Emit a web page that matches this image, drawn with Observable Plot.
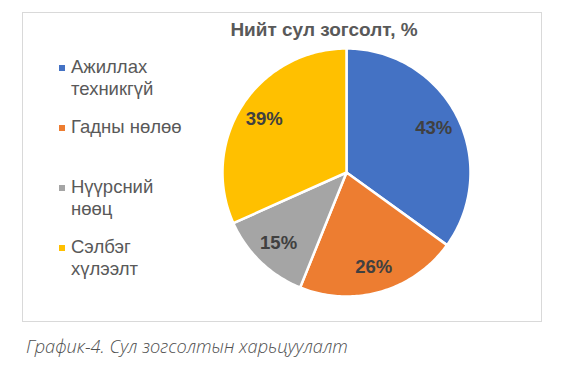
<!DOCTYPE html>
<html><head><meta charset="utf-8">
<script src="https://cdn.jsdelivr.net/npm/d3@7"></script>
<script src="https://cdn.jsdelivr.net/npm/@observablehq/plot@0.6"></script>
<style>
body{margin:0;background:#fff;}
#page{position:relative;width:564px;height:381px;overflow:hidden;font-family:"Liberation Sans",Arial,sans-serif;}
#box{position:absolute;left:22px;top:12px;width:518px;height:308px;border:1px solid #d9d9d9;}
#title{position:absolute;left:0;width:648px;top:19px;text-align:center;font-weight:bold;font-size:19px;line-height:22px;color:#595959;white-space:nowrap;}
#legend{position:absolute;left:57px;top:56px;}
.item{position:relative;height:60px;padding-left:14px;width:122px;font-size:18.5px;line-height:22px;color:#595959;}
.sw{position:absolute;left:2px;top:9px;width:6px;height:6px;}
#chart{position:absolute;left:218px;top:44px;}
#caption{position:absolute;left:26px;top:334px;font-family:"Open Sans",sans-serif;font-style:italic;font-weight:300;font-size:18.2px;line-height:24px;color:#505050;white-space:nowrap;}
</style>
</head><body>
<div id="page">
  <div id="box"></div>
  <div id="title"></div>
  <div id="legend"></div>
  <div id="chart"></div>
  <div id="caption"></div>
</div>
<script>
const titleText = "Нийт сул зогсолт, %";
const captionText = "График-4. Сул зогсолтын харьцуулалт";
const categories = ["Ажиллах техникгүй", "Гадны нөлөө", "Нүүрсний нөөц", "Сэлбэг хүлээлт"];
const values = [43, 26, 15, 39];
const colors = ["#4472C4", "#ED7D31", "#A5A5A5", "#FFC000"];

const data = categories.map((c, i) => ({category: c, value: values[i]}));
const arcs = d3.pie().sort(null).value(d => d.value)(data);

function slicePolygon(a) {
  const pts = [[0, 0]];
  const n = Math.max(2, Math.ceil((a.endAngle - a.startAngle) / (Math.PI / 180)));
  for (let k = 0; k <= n; k++) {
    const t = a.startAngle + (a.endAngle - a.startAngle) * k / n;
    pts.push([Math.sin(t), Math.cos(t)]);
  }
  pts.push([0, 0]);
  return {type: "Feature", properties: {category: a.data.category, value: a.data.value}, geometry: {type: "Polygon", coordinates: [pts]}};
}
const slices = arcs.map(slicePolygon);
const labels = arcs.map(a => {
  const m = (a.startAngle + a.endAngle) / 2;
  return {x: Math.sin(m) * 0.79, y: Math.cos(m) * 0.79, text: a.data.value + "%"};
});

const plot = Plot.plot({
  width: 256, height: 256, margin: 4,
  projection: {type: "reflect-y", domain: {type: "MultiPoint", coordinates: [[-1, -1], [1, 1]]}},
  color: {domain: categories, range: colors},
  style: {background: "transparent", overflow: "visible"},
  marks: [
    Plot.geo(slices, {fill: d => d.properties.category, stroke: "white", strokeWidth: 2.5, strokeLinejoin: "round"}),
    Plot.text(labels, {x: "x", y: "y", text: "text", fill: "#404040", fontSize: 18.5, fontWeight: "bold", fontFamily: "Liberation Sans, Arial, sans-serif"})
  ]
});
document.getElementById("chart").appendChild(plot);

document.getElementById("title").textContent = titleText;
document.getElementById("caption").textContent = captionText;
const colorScale = plot.scale("color");
const legend = document.getElementById("legend");
categories.forEach(c => {
  const it = document.createElement("div");
  it.className = "item";
  const sw = document.createElement("span");
  sw.className = "sw";
  sw.style.background = colorScale.apply(c);
  it.appendChild(sw);
  it.appendChild(document.createTextNode(c));
  legend.appendChild(it);
});
</script>
</body></html>
